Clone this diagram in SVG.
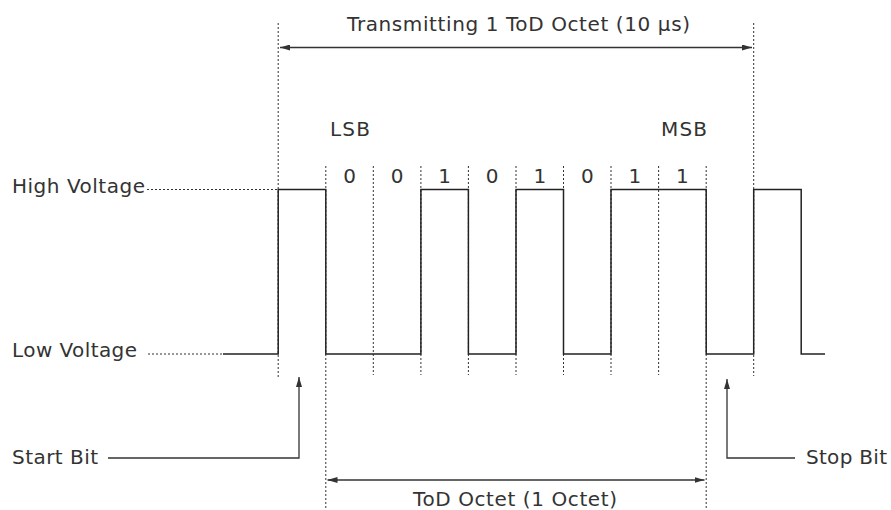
<svg xmlns="http://www.w3.org/2000/svg" width="891" height="510" viewBox="0 0 891 510">
<defs>
<style>
text{font-family:"DejaVu Sans","Liberation Sans",sans-serif;font-size:20px;fill:#333}
.dig{text-anchor:middle}
.dot{stroke:#333;stroke-width:1;stroke-dasharray:2 2;fill:none}
.sig{stroke:#222;stroke-width:1.5;fill:none}
.ln{stroke:#333;stroke-width:1.3;fill:none}
</style>
<marker id="ah" viewBox="0 0 10 6" refX="10" refY="3" markerWidth="10" markerHeight="6" markerUnits="userSpaceOnUse" orient="auto-start-reverse">
<path d="M0,0 L10,3 L0,6 Z" fill="#333"/>
</marker>
</defs>
<rect width="891" height="510" fill="#fff"/>
<g id="guides">
<line class="dot" x1="278.2" y1="23" x2="278.2" y2="378"/>
<line class="dot" x1="753.7" y1="23" x2="753.7" y2="376"/>
<line class="dot" x1="325.8" y1="166" x2="325.8" y2="510"/>
<line class="dot" x1="706.2" y1="166" x2="706.2" y2="510"/>
<line class="dot" x1="373.3" y1="166" x2="373.3" y2="375"/>
<line class="dot" x1="420.9" y1="166" x2="420.9" y2="375"/>
<line class="dot" x1="468.4" y1="166" x2="468.4" y2="375"/>
<line class="dot" x1="516" y1="166" x2="516" y2="375"/>
<line class="dot" x1="563.5" y1="166" x2="563.5" y2="375"/>
<line class="dot" x1="611" y1="166" x2="611" y2="375"/>
<line class="dot" x1="658.6" y1="166" x2="658.6" y2="375"/>
<line class="dot" x1="147" y1="189.5" x2="278" y2="189.5"/>
<line class="dot" x1="148" y1="354" x2="223" y2="354"/>
</g>
<g id="signal">
<path class="sig" d="M223,354 H278.2 V189.5 H325.8 V354 H420.9 V189.5 H468.4 V354 H516 V189.5 H563.5 V354 H611 V189.5 H706.2 V354 H753.7 V189.5 H801.2 V354 H825"/>
</g>
<g id="connectors">
<line class="ln" x1="280" y1="47.5" x2="752" y2="47.5" marker-start="url(#ah)" marker-end="url(#ah)"/>
<line class="ln" x1="327.5" y1="480" x2="704.5" y2="480" marker-start="url(#ah)" marker-end="url(#ah)"/>
<polyline class="ln" points="108,458 299,458 299,377" marker-end="url(#ah)"/>
<polyline class="ln" points="795,458 727,458 727,379" marker-end="url(#ah)"/>
</g>
<g id="labels">
<text x="347" y="31" textLength="343" lengthAdjust="spacing">Transmitting 1 ToD Octet (10 µs)</text>
<text x="12" y="193" textLength="133" lengthAdjust="spacing">High Voltage</text>
<text x="12" y="357" textLength="125" lengthAdjust="spacing">Low Voltage</text>
<text x="12" y="464" textLength="86" lengthAdjust="spacing">Start Bit</text>
<text x="806" y="464" textLength="81" lengthAdjust="spacing">Stop Bit</text>
<text x="413" y="506" textLength="204" lengthAdjust="spacing">ToD Octet (1 Octet)</text>
<text x="330" y="136" textLength="40" lengthAdjust="spacing">LSB</text>
<text x="661" y="136" textLength="46" lengthAdjust="spacing">MSB</text>
<text class="dig" x="349.5" y="182.5">0</text>
<text class="dig" x="397" y="182.5">0</text>
<text class="dig" x="444.6" y="182.5">1</text>
<text class="dig" x="492.2" y="182.5">0</text>
<text class="dig" x="539.8" y="182.5">1</text>
<text class="dig" x="587.3" y="182.5">0</text>
<text class="dig" x="634.8" y="182.5">1</text>
<text class="dig" x="682.4" y="182.5">1</text>
</g>
</svg>
